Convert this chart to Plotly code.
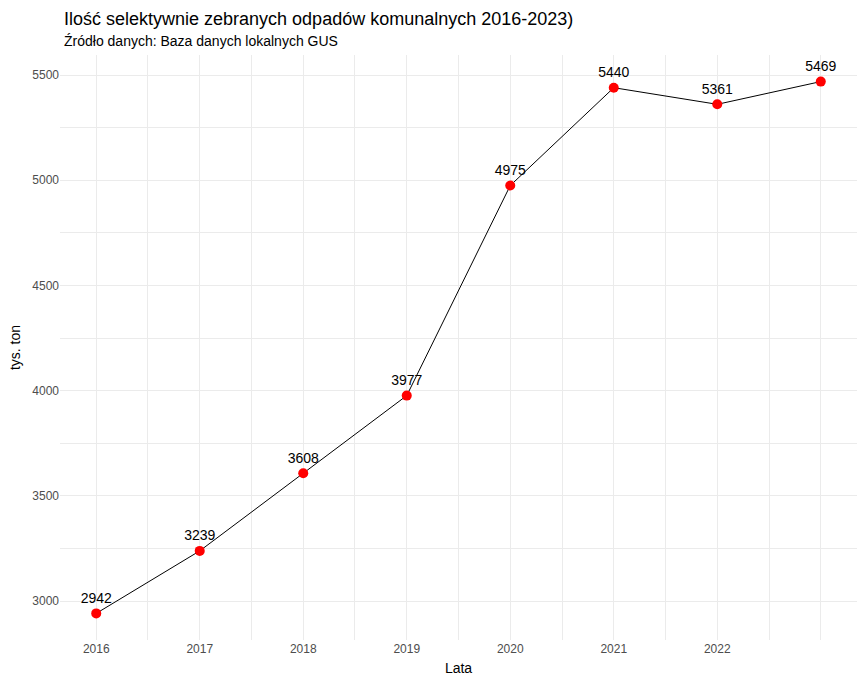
import plotly.graph_objects as go

years = [2016, 2017, 2018, 2019, 2020, 2021, 2022, 2023]
values = [2942, 3239, 3608, 3977, 4975, 5440, 5361, 5469]
x_ticks = [2016, 2017, 2018, 2019, 2020, 2021, 2022]
y_ticks = [3000, 3500, 4000, 4500, 5000, 5500]

FONT = "Liberation Sans, Arial, sans-serif"
GRID = "#EBEBEB"
H = 684
T, B = 55, 44

fig = go.Figure()
fig.add_trace(go.Scatter(
    x=years, y=values, mode="lines",
    line=dict(color="black", width=1), hoverinfo="skip", showlegend=False,
))
fig.add_trace(go.Scatter(
    x=years, y=values, mode="markers+text",
    marker=dict(color="#FF0000", size=10),
    text=[str(v) for v in values], textposition="top center",
    textfont=dict(family=FONT, size=14, color="black"),
    showlegend=False,
))

rng = max(values) - min(values)
xr = years[-1] - years[0]
plot_h = H - T - B


def paper_y(px_from_top):
    return 1 + (T - px_from_top) / plot_h


fig.add_annotation(
    text="Ilość selektywnie zebranych odpadów komunalnych 2016-2023)",
    xref="paper", yref="paper", x=0.003, y=paper_y(7),
    xanchor="left", yanchor="top", showarrow=False,
    font=dict(family=FONT, size=18, color="black"),
)
fig.add_annotation(
    text="Źródło danych: Baza danych lokalnych GUS",
    xref="paper", yref="paper", x=0.003, y=paper_y(31),
    xanchor="left", yanchor="top", showarrow=False,
    font=dict(family=FONT, size=14, color="black"),
)

fig.update_layout(
    width=865, height=H,
    margin=dict(l=60, r=8, t=T, b=B),
    paper_bgcolor="white", plot_bgcolor="white",
    font=dict(family=FONT, color="black"),
    xaxis=dict(
        range=[years[0] - 0.05 * xr, years[-1] + 0.05 * xr],
        tickmode="array", tickvals=x_ticks, ticktext=[str(t) for t in x_ticks],
        showgrid=True, gridcolor=GRID, gridwidth=1.1,
        minor=dict(tickmode="linear", tick0=2016, dtick=0.5, showgrid=True,
                   gridcolor=GRID, gridwidth=0.6),
        zeroline=False, showline=False, ticks="",
        tickfont=dict(family=FONT, size=12, color="#4D4D4D"),
        title=dict(text="Lata", font=dict(family=FONT, size=14, color="black"), standoff=8),
    ),
    yaxis=dict(
        range=[min(values) - 0.05 * rng, max(values) + 0.05 * rng],
        tickmode="array", tickvals=y_ticks, ticktext=[str(t) for t in y_ticks],
        showgrid=True, gridcolor=GRID, gridwidth=1.1,
        minor=dict(tickmode="linear", tick0=2750, dtick=250, showgrid=True,
                   gridcolor=GRID, gridwidth=0.6),
        zeroline=False, showline=False, ticks="",
        tickfont=dict(family=FONT, size=12, color="#4D4D4D"),
        title=dict(text="tys. ton", font=dict(family=FONT, size=14, color="black"), standoff=8),
    ),
)

fig.write_html("out.html")
